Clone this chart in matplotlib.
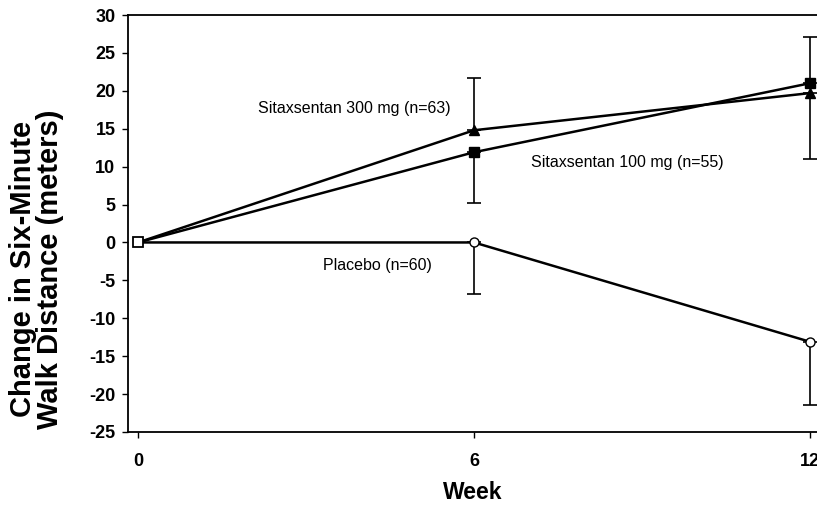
import matplotlib.pyplot as plt
import numpy as np

# data
weeks = np.array([0, 6, 12])

sita300 = np.array([0, 14.8, 19.7])
sita300_lo = np.array([0, 0, 8.7])
sita300_hi = np.array([0, 6.9, 0])

sita100 = np.array([0, 11.9, 21.0])
sita100_lo = np.array([0, 6.7, 0])
sita100_hi = np.array([0, 0, 6.1])

placebo = np.array([0, 0, -13.1])
placebo_lo = np.array([0, 6.8, 8.3])
placebo_hi = np.array([0, 0, 0])

labels = ["Sitaxsentan 300 mg (n=63)", "Sitaxsentan 100 mg (n=55)", "Placebo (n=60)"]

plt.rcParams['font.family'] = ['Liberation Sans', 'DejaVu Sans']
plt.rcParams['axes.unicode_minus'] = False

fig = plt.figure(figsize=(8.17, 5.05), dpi=100)
ax = fig.add_axes([128 / 817, 1 - 432 / 505, 1 - 128 / 817, (432 - 15) / 505])


def draw(y, lo, hi, marker, fc):
    # one-sided error bars, only where there is one
    sel = (lo > 0) | (hi > 0)
    ax.errorbar(weeks[sel], y[sel], yerr=[lo[sel], hi[sel]], fmt='none',
                ecolor='black', elinewidth=1.2, capsize=5, capthick=1.2, zorder=2)
    ax.plot(weeks, y, color='black', lw=1.8, marker=marker, markersize=6.5,
            markerfacecolor=fc, markeredgecolor='black', markevery=[1, 2], zorder=3)


draw(sita300, sita300_lo, sita300_hi, '^', 'black')
draw(sita100, sita100_lo, sita100_hi, 's', 'black')
draw(placebo, placebo_lo, placebo_hi, 'o', 'white')

# shared baseline point
ax.plot(weeks[0], 0, marker='s', markersize=7, markerfacecolor='white',
        markeredgecolor='black', markeredgewidth=1.3, zorder=4)

ax.text(2.14, 17.7, labels[0], fontsize=11.5, va='center')
ax.text(7.02, 10.5, labels[1], fontsize=11.5, va='center')
ax.text(3.3, -3.0, labels[2], fontsize=11.5, va='center')

ax.set_xlim(-0.18, 12.125)
ax.set_ylim(-25, 30)
ax.set_xticks([0, 6, 12])
ax.set_yticks(np.arange(-25, 31, 5))
ax.tick_params(axis='both', direction='out', length=4, width=1, labelsize=13)
ax.tick_params(axis='x', pad=11)
ax.tick_params(axis='y', pad=5)
for lab in ax.get_xticklabels() + ax.get_yticklabels():
    lab.set_fontweight('bold')

ax.spines['right'].set_visible(False)
for s in ['left', 'bottom', 'top']:
    ax.spines[s].set_linewidth(1.3)

ax.set_xlabel("Week", fontsize=16.5, fontweight='bold', labelpad=8)
ax.set_ylabel("Change in Six-Minute\nWalk Distance (meters)", fontsize=21,
              fontweight='bold', linespacing=0.97, va='center')
ax.yaxis.set_label_coords(-0.133, 0.39)

fig.savefig("out.png", dpi=100)
